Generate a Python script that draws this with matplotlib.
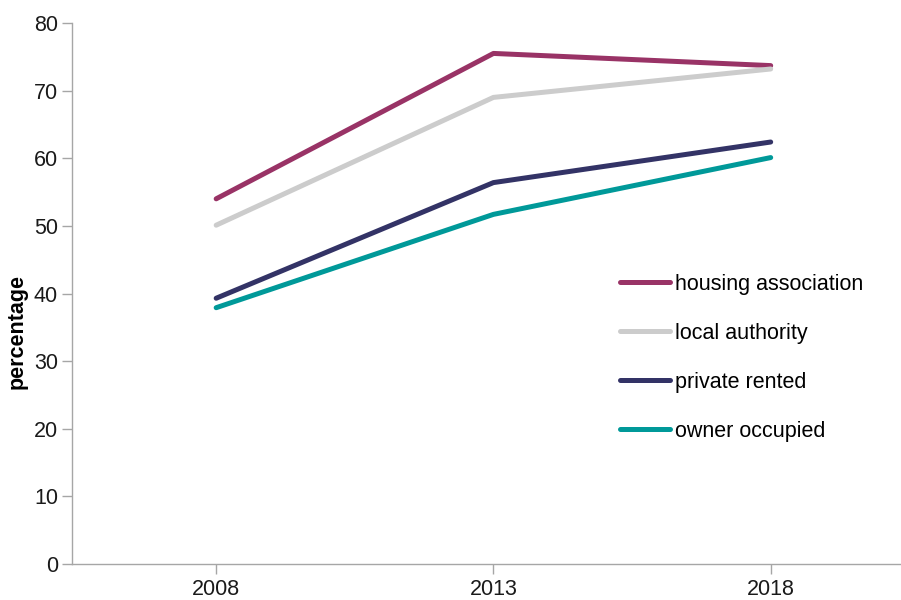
import matplotlib.pyplot as plt

plt.rcParams['font.family'] = ['Liberation Sans', 'DejaVu Sans']

years = ['2008', '2013', '2018']
housing_association = [54.0, 75.5, 73.7]
local_authority = [50.1, 69.0, 73.2]
private_rented = [39.3, 56.4, 62.4]
owner_occupied = [37.9, 51.7, 60.1]

series = [
    ('housing association', housing_association, '#993366'),
    ('local authority', local_authority, '#cccccc'),
    ('private rented', private_rented, '#333366'),
    ('owner occupied', owner_occupied, '#009999'),
]

fig = plt.figure(figsize=(9.01, 6.0), dpi=100)
ax = fig.add_axes([72 / 901, 1 - 564 / 600, 1 - 72 / 901, (564 - 23) / 600])

x = range(len(years))
for name, vals, col in series:
    ax.plot(x, vals, color=col, lw=3.6, solid_capstyle='round',
            solid_joinstyle='round', label=name)

ax.set_xlim(-0.52, 2.47)
ax.set_ylim(0, 80)
ax.set_yticks(range(0, 81, 10))
ax.set_xticks(list(x))
ax.set_xticklabels(years)

for s in ['top', 'right']:
    ax.spines[s].set_visible(False)
for s in ['left', 'bottom']:
    ax.spines[s].set_color('#a6a6a6')
    ax.spines[s].set_linewidth(1.0)
ax.tick_params(axis='both', colors='#a6a6a6', labelcolor='#1a1a1a',
               labelsize=15.5, length=7, width=1.0)
ax.tick_params(axis='y', pad=3)
ax.tick_params(axis='x', pad=4)

ax.set_ylabel('percentage', fontsize=15.5, fontweight='bold', labelpad=4)
ax.yaxis.set_label_coords(-0.053, 0.43)

ax.legend(loc='upper left', bbox_to_anchor=(620 / 901, 1 - 274 / 600),
          bbox_transform=fig.transFigure, frameon=False, fontsize=15.5,
          handlelength=2.3, handletextpad=0.25, labelspacing=1.3,
          borderpad=0, borderaxespad=0)

fig.savefig('out.png', dpi=100)
